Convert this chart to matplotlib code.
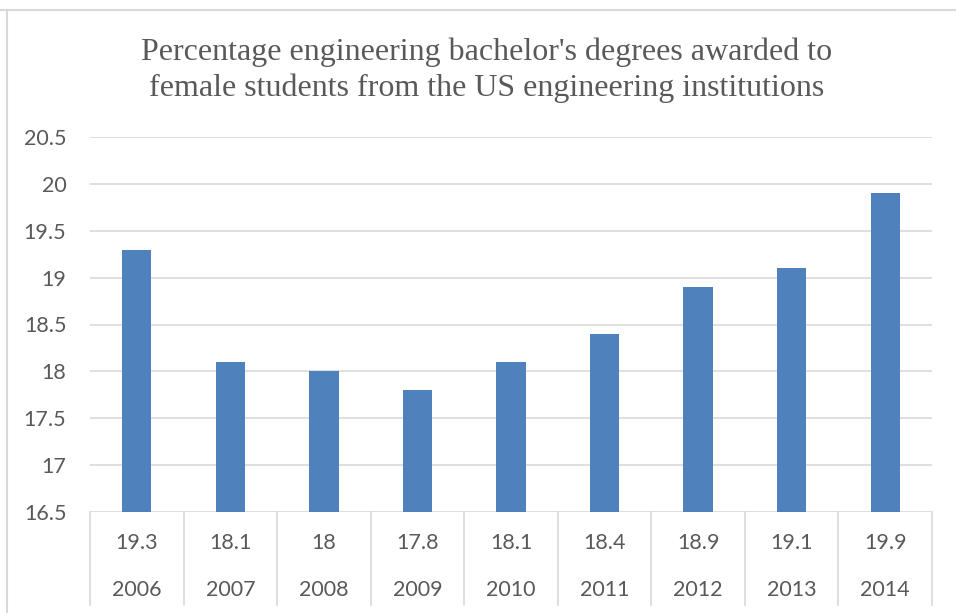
import numpy as np
import matplotlib.pyplot as plt
from matplotlib.lines import Line2D
from matplotlib.transforms import blended_transform_factory

# percentage of engineering bachelor's degrees awarded to women
years = ['2006', '2007', '2008', '2009', '2010', '2011', '2012', '2013', '2014']
values = [19.3, 18.1, 18, 17.8, 18.1, 18.4, 18.9, 19.1, 19.9]
value_labels = ['19.3', '18.1', '18', '17.8', '18.1', '18.4', '18.9', '19.1', '19.9']
yticks = [16.5, 17, 17.5, 18, 18.5, 19, 19.5, 20, 20.5]
ytick_labels = ['16.5', '17', '17.5', '18', '18.5', '19', '19.5', '20', '20.5']

grid_col = '#d9d9d9'
text_col = '#595959'
bar_col = '#4f81bd'
fs = 15.5

fig = plt.figure(figsize=(9.56, 6.13), dpi=100)
ax = fig.add_axes([90 / 956, 1 - 512 / 613, (932 - 90) / 956, (512 - 137) / 613])

x = np.arange(len(years))
ax.bar(x, values, width=0.313, color=bar_col, zorder=2)

ax.set_xlim(-0.5, len(years) - 0.5)
ax.set_ylim(16.5, 20.5)
ax.set_yticks(yticks)
ax.set_yticklabels(ytick_labels, fontsize=fs, color=text_col, family='Lato')
ax.tick_params(axis='y', length=0, pad=17)
ax.set_xticks([])
ax.yaxis.grid(True, color=grid_col, linewidth=1.2, zorder=0)
for s in ax.spines.values():
    s.set_visible(False)

# data table under the axis
trans = blended_transform_factory(ax.transData, ax.transAxes)
table_bottom = -(605 - 512) / 375
for b in np.arange(-0.5, len(years)):
    ax.add_line(Line2D([b, b], [0, table_bottom], transform=trans, color=grid_col,
                       linewidth=1.2, clip_on=False))
for i in range(len(years)):
    ax.text(i, -31 / 375, value_labels[i], transform=trans, ha='center', va='center',
            fontsize=fs, color=text_col, family='Lato')
    ax.text(i, -78 / 375, years[i], transform=trans, ha='center', va='center',
            fontsize=fs, color=text_col, family='Lato')

fig.text(487 / 956, 1 - 70 / 613,
         "Percentage engineering bachelor's degrees awarded to\n"
         "female students from the US engineering institutions",
         ha='center', va='center', fontsize=23, color=text_col,
         family='Liberation Serif', linespacing=1.3)

# chart frame
fig.add_artist(Line2D([0, 1], [1 - 10 / 613] * 2, transform=fig.transFigure,
                      color=grid_col, linewidth=1.5))
fig.add_artist(Line2D([7 / 956] * 2, [0, 1 - 10 / 613], transform=fig.transFigure,
                      color=grid_col, linewidth=1.5))

fig.savefig('out.png', dpi=100, facecolor='white')
